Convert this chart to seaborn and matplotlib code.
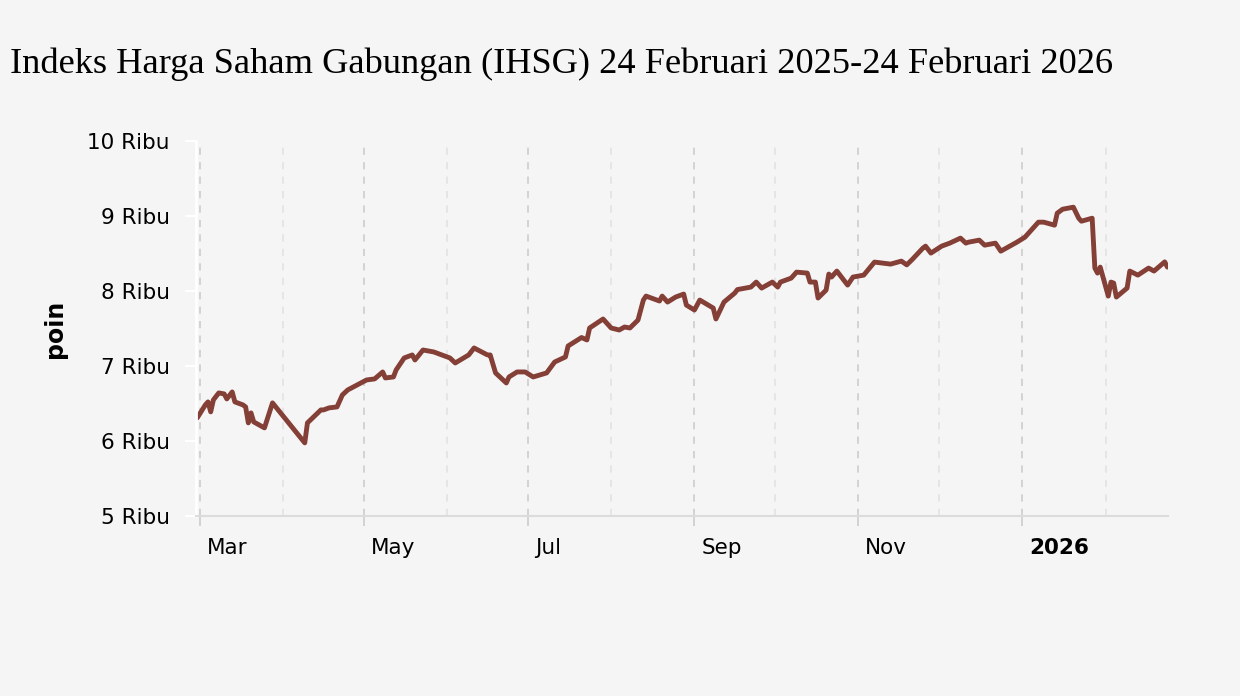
import pandas as pd
import numpy as np
import matplotlib
matplotlib.use('Agg')
import matplotlib.pyplot as plt
import matplotlib.dates as mdates
import matplotlib.ticker as mtick
import matplotlib.transforms as mtrans
import seaborn as sns

# ── Data (IHSG closing points) ───────────────────────────────
dates = [
    "2025-02-28", "2025-03-03", "2025-03-04", "2025-03-05", "2025-03-06", "2025-03-08",
    "2025-03-10", "2025-03-11", "2025-03-13", "2025-03-14", "2025-03-17", "2025-03-18",
    "2025-03-19", "2025-03-20", "2025-03-21", "2025-03-25", "2025-03-28", "2025-04-09",
    "2025-04-10", "2025-04-15", "2025-04-16", "2025-04-18", "2025-04-21", "2025-04-23",
    "2025-04-25", "2025-05-02", "2025-05-05", "2025-05-08", "2025-05-09", "2025-05-12",
    "2025-05-13", "2025-05-16", "2025-05-19", "2025-05-20", "2025-05-23", "2025-05-27",
    "2025-06-02", "2025-06-04", "2025-06-09", "2025-06-11", "2025-06-16", "2025-06-17",
    "2025-06-19", "2025-06-23", "2025-06-24", "2025-06-27", "2025-06-30", "2025-07-03",
    "2025-07-08", "2025-07-11", "2025-07-15", "2025-07-16", "2025-07-21", "2025-07-23",
    "2025-07-24", "2025-07-29", "2025-08-01", "2025-08-04", "2025-08-06", "2025-08-08",
    "2025-08-11", "2025-08-13", "2025-08-14", "2025-08-19", "2025-08-20", "2025-08-22",
    "2025-08-25", "2025-08-28", "2025-08-29", "2025-09-01", "2025-09-03", "2025-09-08",
    "2025-09-09", "2025-09-12", "2025-09-16", "2025-09-17", "2025-09-22", "2025-09-24",
    "2025-09-26", "2025-09-30", "2025-10-02", "2025-10-03", "2025-10-07", "2025-10-09",
    "2025-10-13", "2025-10-14", "2025-10-16", "2025-10-17", "2025-10-20", "2025-10-21",
    "2025-10-22", "2025-10-24", "2025-10-28", "2025-10-30", "2025-11-03", "2025-11-07",
    "2025-11-10", "2025-11-13", "2025-11-17", "2025-11-19", "2025-11-21", "2025-11-25",
    "2025-11-26", "2025-11-28", "2025-12-02", "2025-12-05", "2025-12-09", "2025-12-11",
    "2025-12-12", "2025-12-16", "2025-12-18", "2025-12-22", "2025-12-24", "2025-12-30",
    "2026-01-02", "2026-01-07", "2026-01-09", "2026-01-13", "2026-01-14", "2026-01-16",
    "2026-01-20", "2026-01-22", "2026-01-23", "2026-01-27", "2026-01-28", "2026-01-29",
    "2026-01-30", "2026-02-02", "2026-02-03", "2026-02-04", "2026-02-05", "2026-02-09",
    "2026-02-10", "2026-02-13", "2026-02-17", "2026-02-19", "2026-02-23", "2026-02-24",
]
points = [
    6307, 6480, 6520, 6387, 6547, 6640,
    6627, 6560, 6653, 6520, 6480, 6453,
    6240, 6373, 6253, 6173, 6507, 5973,
    6240, 6413, 6413, 6440, 6453, 6613,
    6680, 6813, 6827, 6920, 6840, 6853,
    6947, 7107, 7147, 7080, 7213, 7187,
    7107, 7040, 7147, 7240, 7147, 7147,
    6907, 6773, 6853, 6920, 6920, 6853,
    6907, 7053, 7120, 7267, 7380, 7347,
    7507, 7627, 7507, 7480, 7520, 7507,
    7613, 7880, 7933, 7867, 7933, 7853,
    7920, 7960, 7813, 7747, 7880, 7773,
    7627, 7853, 7973, 8020, 8053, 8120,
    8040, 8120, 8053, 8120, 8173, 8253,
    8240, 8120, 8120, 7907, 8013, 8227,
    8187, 8267, 8080, 8187, 8213, 8387,
    8373, 8360, 8400, 8350, 8420, 8573,
    8600, 8507, 8600, 8640, 8707, 8640,
    8653, 8680, 8613, 8640, 8533, 8653,
    8720, 8920, 8920, 8880, 9040, 9093,
    9120, 8973, 8933, 8973, 8307, 8240,
    8320, 7933, 8120, 8107, 7920, 8040,
    8267, 8213, 8307, 8267, 8390, 8320,
]

df = pd.DataFrame({"Tanggal": pd.to_datetime(dates), "IHSG": points})

# ── Style ────────────────────────────────────────────────────
BG = "#f5f5f5"
LINE = "#843f36"
sns.set_theme(style="white")
plt.rcParams.update({
    "font.family": "DejaVu Sans",
    "figure.facecolor": BG,
    "axes.facecolor": BG,
    "savefig.facecolor": BG,
})

fig = plt.figure(figsize=(12.4, 6.96), dpi=100)
ax = fig.add_axes([0.158, 0.259, 0.784, 0.538])

sns.lineplot(data=df, x="Tanggal", y="IHSG", ax=ax, color=LINE,
             linewidth=3.5, solid_joinstyle="round", solid_capstyle="round")

ax.set_ylim(5000, 10000)
ax.set_xlim(pd.Timestamp("2025-02-27 12:00"), pd.Timestamp("2026-02-24 06:00"))

# y axis
ax.yaxis.set_major_locator(mtick.MultipleLocator(1000))
ax.yaxis.set_major_formatter(mtick.FuncFormatter(lambda v, p: f"{v/1000:.0f} Ribu"))
ax.tick_params(axis="y", which="major", length=8, width=1.5, color="white",
               pad=11, labelsize=15.5, labelcolor="black", left=True)

# x axis: months, major every 2 months, minor in between
ax.xaxis.set_major_locator(mdates.MonthLocator(bymonth=[1, 3, 5, 7, 9, 11]))
ax.xaxis.set_minor_locator(mdates.MonthLocator(bymonth=[2, 4, 6, 8, 10, 12]))

def month_fmt(v, p):
    d = mdates.num2date(v)
    return str(d.year) if d.month == 1 else d.strftime("%b")

ax.xaxis.set_major_formatter(mtick.FuncFormatter(month_fmt))
ax.tick_params(axis="x", which="major", length=7, width=1.3, color="#d0d0d0",
               pad=9, labelsize=15.5, labelcolor="black", bottom=True)
ax.tick_params(axis="x", which="minor", length=0)

fig.canvas.draw()
offset = mtrans.ScaledTranslation(7 / 100, 0, fig.dpi_scale_trans)
for lab in ax.get_xticklabels():
    lab.set_horizontalalignment("left")
    lab.set_transform(lab.get_transform() + offset)
    if lab.get_text().isdigit():
        lab.set_fontweight("bold")

# grid
ax.grid(False)
ax.xaxis.grid(True, which="major", color="#d0d0d0", linestyle=(0, (4, 4)), linewidth=1.3)
ax.xaxis.grid(True, which="minor", color="#e4e4e4", linestyle=(0, (4, 4)), linewidth=1.3)

# spines
for s in ["top", "right"]:
    ax.spines[s].set_visible(False)
ax.spines["left"].set_color("white")
ax.spines["left"].set_linewidth(2)
ax.spines["bottom"].set_color("#dcdcdc")
ax.spines["bottom"].set_linewidth(1.5)

ax.set_xlabel("")
ax.set_ylabel("poin", fontsize=17, fontweight="bold", color="black")
ax.yaxis.set_label_coords(-0.133, 0.5)

fig.text(0.008, 0.895, "Indeks Harga Saham Gabungan (IHSG) 24 Februari 2025-24 Februari 2026",
         fontsize=26.2, family="Liberation Serif", color="black", va="baseline", ha="left")

plt.savefig("out.png", dpi=100, facecolor=BG)
plt.close()
